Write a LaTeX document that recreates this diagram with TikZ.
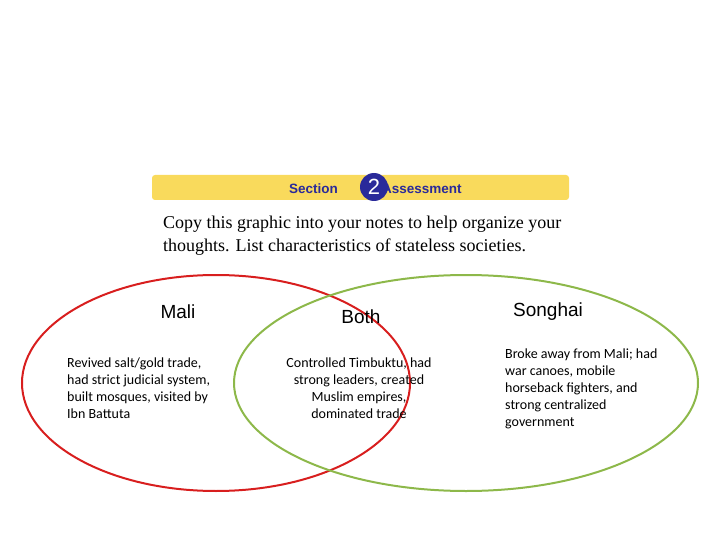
\documentclass[tikz,border=0pt]{standalone}
\usepackage{fontspec}
\setmainfont{Liberation Serif}
\newfontfamily\arialf{Liberation Sans}
\newfontfamily\smallf{Carlito}
\definecolor{bar}{HTML}{F9DA5C}
\definecolor{navy}{HTML}{2A2A9A}
\definecolor{redc}{HTML}{D81E1E}
\definecolor{greenc}{HTML}{8DB84A}
\tikzset{
  head/.style={font=\arialf\bfseries\fontsize{13.5}{16}\selectfont, text=navy},
  title/.style={font=\arialf\fontsize{19}{21}\selectfont},
  body/.style={font=\smallf\fontsize{14}{17}\selectfont, align=left, anchor=north west, inner sep=0pt},
}
\begin{document}
\begin{tikzpicture}[x=1pt,y=-1pt]
\useasboundingbox (0,0) rectangle (720,540);
\fill[bar, rounded corners=3pt] (152,175) rectangle (569,200);
\node[head, anchor=east, inner sep=0pt] (sec) at (338,189) {Section};
\node[circle, fill=navy, minimum size=28pt, inner sep=0pt, text=white, font=\arialf\fontsize{22}{22}\selectfont] (num) at (374,187) {2};
\node[head, anchor=west, inner sep=0pt] (ass) at (382,189) {Assessment};
\node[anchor=north west, align=left, inner sep=0pt, font=\fontsize{18}{23}\selectfont] (txt) at (163,216) {Copy this graphic into your notes to help organize your\\thoughts. List characteristics of stateless societies.};
\draw[redc, line width=2pt] (216,383) ellipse [x radius=194, y radius=108];
\draw[greenc, line width=2pt] (466,383) ellipse [x radius=232, y radius=108];
\node[title] (mali) at (178,312) {Mali};
\node[title] (both) at (361,317) {Both};
\node[title] (song) at (548,312) {Songhai};
\node[body] (t1) at (67,358) {Revived salt/gold trade,\\had strict judicial system,\\built mosques, visited by\\Ibn Battuta};
\node[body, align=center, anchor=north] (t2) at (359,358) {Controlled Timbuktu, had\\strong leaders, created\\Muslim empires,\\dominated trade};
\node[body] (t3) at (505,349) {Broke away from Mali; had\\war canoes, mobile\\horseback fighters, and\\strong centralized\\government};
\end{tikzpicture}
\end{document}
